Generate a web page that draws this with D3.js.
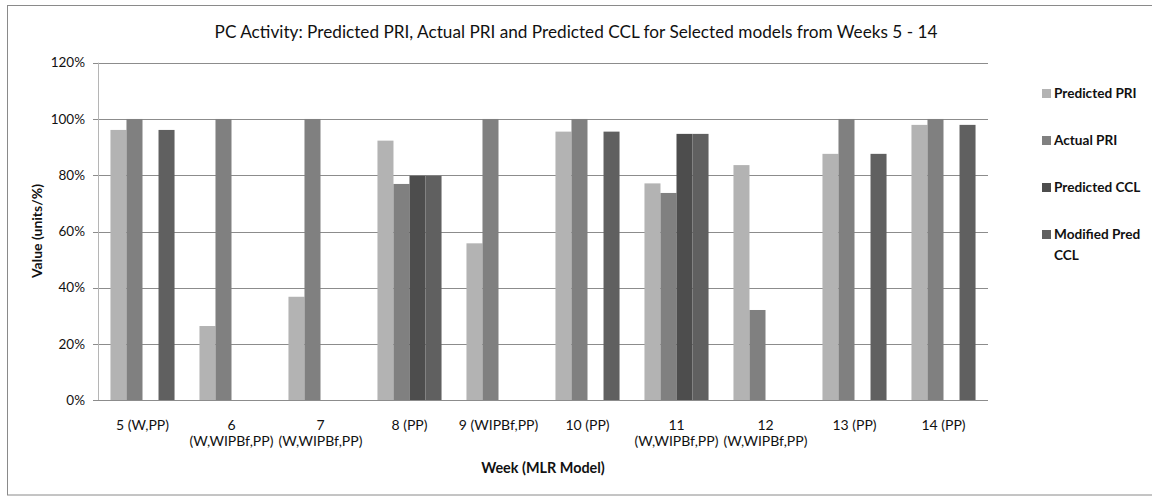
<!DOCTYPE html>
<html>
<head>
<meta charset="utf-8">
<script src="https://cdn.jsdelivr.net/npm/d3@7"></script>
<style>
  body { margin: 0; background: #fff; }
  text { font-family: Lato, "Open Sans", sans-serif; fill: #111; }
</style>
</head>
<body>
<svg id="chart" width="1152" height="497"></svg>
<script>
// data
const weeks = ["5", "6", "7", "8", "9", "10", "11", "12", "13", "14"];
const weekLabels = [
  ["5 (W,PP)"],
  ["6", "(W,WIPBf,PP)"],
  ["7", "(W,WIPBf,PP)"],
  ["8 (PP)"],
  ["9 (WIPBf,PP)"],
  ["10 (PP)"],
  ["11", "(W,WIPBf,PP)"],
  ["12", "(W,WIPBf,PP)"],
  ["13 (PP)"],
  ["14 (PP)"]
];
const seriesNames = ["Predicted PRI", "Actual PRI", "Predicted CCL", "Modified Pred CCL"];
const predictedPRI = [96.1, 26.4, 36.8, 92.3, 55.8, 95.5, 77.1, 83.6, 87.6, 97.9];
const actualPRI = [100, 100, 100, 76.9, 100, 100, 73.7, 32.1, 100, 100];
const predictedCCL = [null, null, null, 79.8, null, null, 94.7, null, null, null];
const modifiedPredCCL = [96.1, null, null, 79.8, null, 95.5, 94.7, null, 87.6, 97.9];
const seriesColors = ["#b3b3b3", "#808080", "#4d4d4d", "#606060"];
const yTicks = [0, 20, 40, 60, 80, 100, 120];

const values = [predictedPRI, actualPRI, predictedCCL, modifiedPredCCL];

const svg = d3.select("#chart");

// chart frame
svg.append("rect")
  .attr("x", 7.5).attr("y", 5.5)
  .attr("width", 1150).attr("height", 489.5)
  .attr("fill", "#fff")
  .attr("stroke", "#8a8a8a");

const margin = { left: 98, right: 988, top: 62.7, bottom: 400.3 };

const x0 = d3.scaleBand()
  .domain(weeks)
  .range([margin.left, margin.right])
  .paddingInner(0.28)
  .paddingOuter(0.14);

const x1 = d3.scaleBand()
  .domain(seriesNames)
  .range([0, x0.bandwidth()]);

const y = d3.scaleLinear()
  .domain([0, 120])
  .range([margin.bottom, margin.top]);

// gridlines
svg.append("g")
  .selectAll("line")
  .data(yTicks)
  .join("line")
  .attr("x1", margin.left - 5)
  .attr("x2", margin.right)
  .attr("y1", (d) => Math.round(y(d)) + 0.5)
  .attr("y2", (d) => Math.round(y(d)) + 0.5)
  .style("stroke", "#8c8c8c")
  .style("stroke-width", 1);

// y axis line
svg.append("line")
  .attr("x1", margin.left + 0.5).attr("x2", margin.left + 0.5)
  .attr("y1", margin.top).attr("y2", margin.bottom)
  .style("stroke", "#b5b5b5");

// y tick labels
svg.append("g")
  .selectAll("text")
  .data(yTicks)
  .join("text")
  .attr("x", margin.left - 13)
  .attr("y", (d) => y(d))
  .attr("dy", "0.35em")
  .attr("text-anchor", "end")
  .style("font-size", "13.5px")
  .text((d) => d + "%");

// bars
const groups = svg.append("g")
  .selectAll("g")
  .data(weeks)
  .join("g")
  .attr("transform", (d) => `translate(${x0(d)},0)`);

groups.selectAll("rect")
  .data((d, i) => seriesNames.map((s, j) => ({ s, j, v: values[j][i] })).filter((b) => b.v != null))
  .join("rect")
  .attr("x", (d) => x1(d.s))
  .attr("width", x1.bandwidth())
  .attr("y", (d) => y(d.v))
  .attr("height", (d) => y(0) - y(d.v))
  .attr("fill", (d) => seriesColors[d.j]);

// x axis line on top of bars
svg.append("line")
  .attr("x1", margin.left).attr("x2", margin.right)
  .attr("y1", Math.round(y(0)) + 0.5).attr("y2", Math.round(y(0)) + 0.5)
  .style("stroke", "#8c8c8c");

// x tick labels
const xl = svg.append("g")
  .selectAll("text")
  .data(weeks)
  .join("text")
  .attr("x", (d) => x0(d) + x0.bandwidth() / 2)
  .attr("y", 430)
  .attr("text-anchor", "middle")
  .style("font-size", "14px");

xl.selectAll("tspan")
  .data((d, i) => weekLabels[i])
  .join("tspan")
  .attr("x", function () { return this.parentNode.getAttribute("x"); })
  .attr("dy", (d, i) => (i === 0 ? 0 : 15.5))
  .text((d) => d);

// title
svg.append("text")
  .attr("x", 576)
  .attr("y", 38)
  .attr("text-anchor", "middle")
  .style("font-size", "17.2px")
  .text("PC Activity: Predicted PRI, Actual PRI and Predicted CCL for Selected models from Weeks 5 - 14");

// axis titles
svg.append("text")
  .attr("x", (margin.left + margin.right) / 2)
  .attr("y", 473)
  .attr("text-anchor", "middle")
  .style("font-size", "14.4px")
  .style("font-weight", "bold")
  .text("Week (MLR Model)");

svg.append("text")
  .attr("transform", "translate(42,231) rotate(-90)")
  .attr("text-anchor", "middle")
  .style("font-size", "14px")
  .style("font-weight", "bold")
  .text("Value (units/%)");

// legend
const legendRows = [
  { lines: ["Predicted PRI"], y: 93.5 },
  { lines: ["Actual PRI"], y: 140.5 },
  { lines: ["Predicted CCL"], y: 187.5 },
  { lines: ["Modified Pred", "CCL"], y: 234.5 }
];

const lg = svg.append("g")
  .selectAll("g")
  .data(legendRows)
  .join("g")
  .attr("transform", (d) => `translate(1042,${d.y})`);

lg.append("rect")
  .attr("x", 0).attr("y", -4.5)
  .attr("width", 9).attr("height", 9)
  .attr("fill", (d, i) => seriesColors[i]);

lg.append("text")
  .attr("x", 12)
  .attr("y", 0)
  .style("font-size", "13.6px")
  .style("font-weight", "bold")
  .selectAll("tspan")
  .data((d) => d.lines)
  .join("tspan")
  .attr("x", 12)
  .attr("dy", (d, i) => (i === 0 ? "0.35em" : "20.5px"))
  .text((d) => d);
</script>
</body>
</html>
